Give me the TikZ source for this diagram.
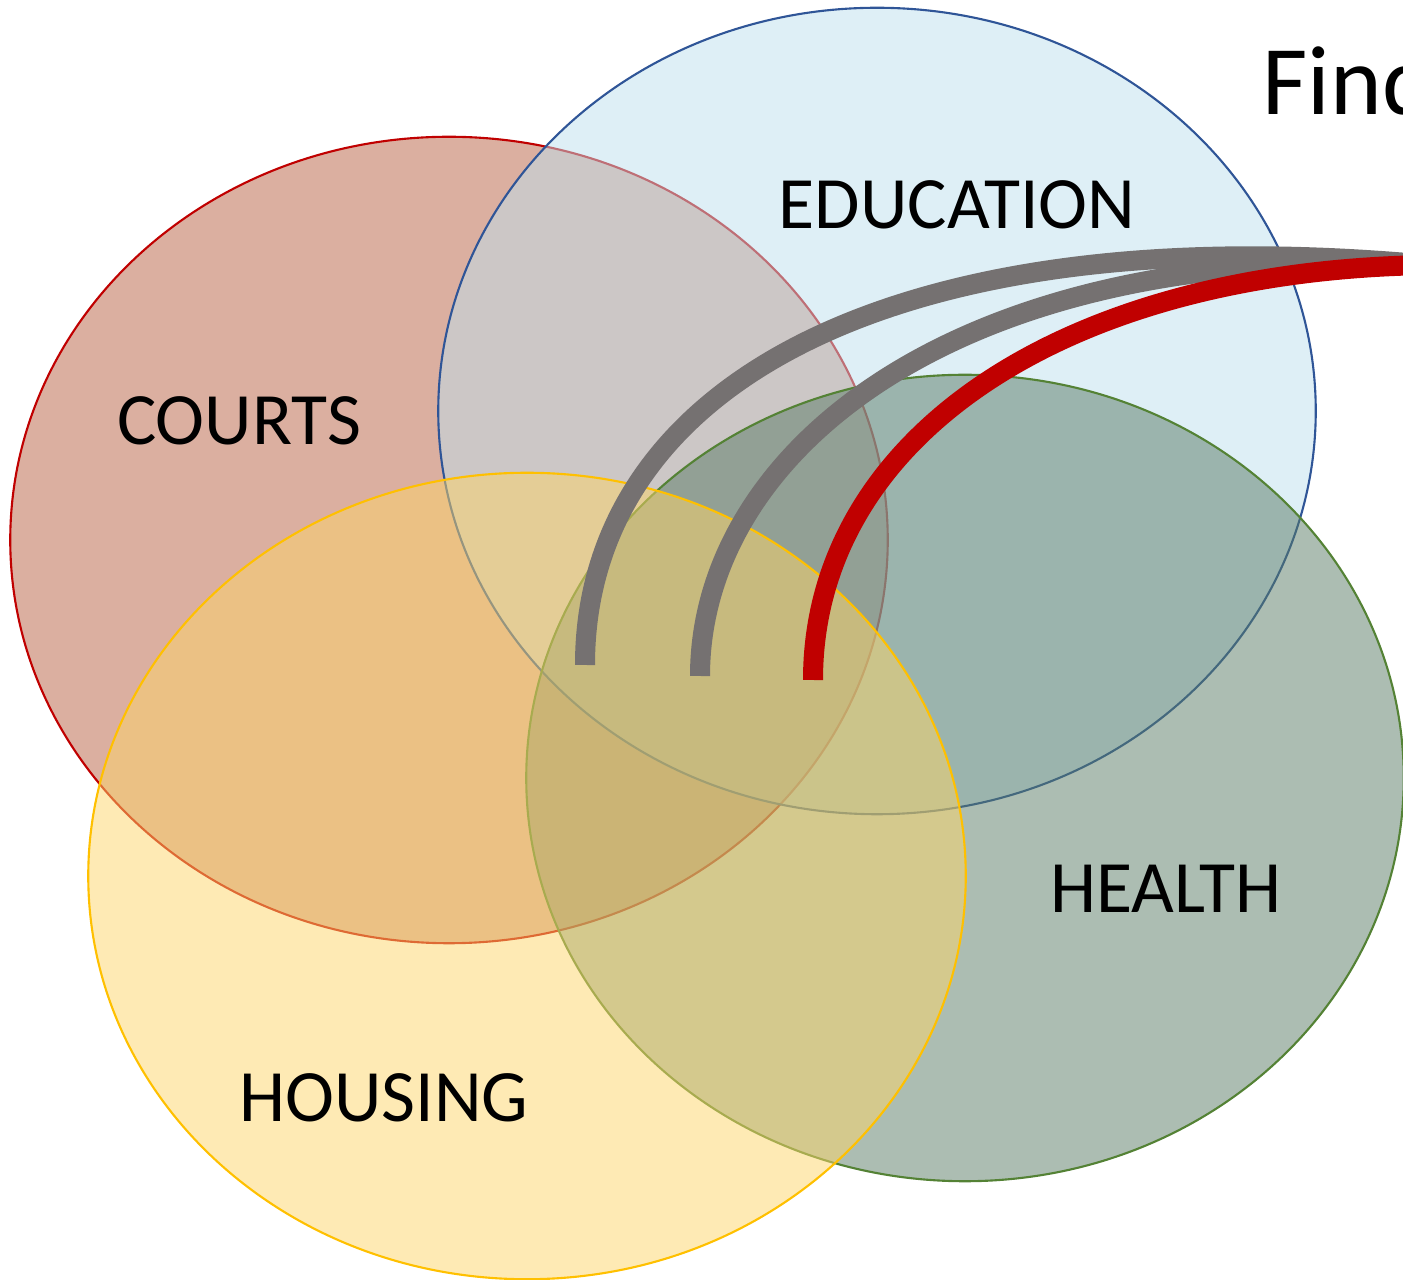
\documentclass[tikz,border=0pt]{standalone}
\usepackage{fontspec}
\setmainfont{Carlito}
\usepackage{tikz}
\usetikzlibrary{shapes.geometric}
\usepackage{xcolor}
\definecolor{courtsline}{RGB}{192,0,0}
\definecolor{courtsfill}{RGB}{183,95,65}
\definecolor{educationline}{RGB}{47,85,151}
\definecolor{educationfill}{RGB}{189,223,237}
\definecolor{healthline}{RGB}{84,130,53}
\definecolor{healthfill}{RGB}{89,123,101}
\definecolor{housingline}{RGB}{255,192,0}
\definecolor{housingfill}{RGB}{253,213,105}
\definecolor{linkgrey}{RGB}{117,113,113}
\tikzset{%
	every set/.style={
		ellipse,
		minimum width=8.77cm,
		minimum height=8.06cm,
		inner sep=0pt,
		line width=0.6pt,
		fill opacity=0.5
	},
	set courts/.style={draw=courtsline, fill=courtsfill},
	set education/.style={draw=educationline, fill=educationfill},
	set health/.style={draw=healthline, fill=healthfill},
	set housing/.style={draw=housingline, fill=housingfill},
	set label/.style={
		inner sep=0pt,
		font=\fontsize{21}{25}\selectfont
	},
	link/.style={
		line width=0.2cm,
		draw=linkgrey
	},
}
\begin{document}
\begin{tikzpicture}[x=0.01cm, y=-0.01cm]
			\useasboundingbox (0,0) rectangle (1403,1280);
			
			\foreach \m/\x/\y in {courts/449/540, education/877/411, health/965/778, housing/527/876}
			\node [every set/.try, set \m/.try] (\m) at (\x,\y) {};
			
			\foreach \m/\l/\x/\y in {courts/COURTS/239/421, education/EDUCATION/957/205, health/HEALTH/1166/889, housing/HOUSING/384/1098}
			\node [set label] (\m-label) at (\x,\y) {\l};
			
			\node [anchor=base west, inner sep=0pt, font=\fontsize{28}{32}\selectfont] (find) at (1262,115) {Find};
			
			\coordinate (hub) at (1430,265);
			\foreach \i/\x/\y in {1/585/665, 2/700/676, 3/813/680}
			\coordinate (leg-\i) at (\x,\y);
			
			\draw [link] (leg-1) .. controls (585,385) and (895,215) .. (hub);
			\draw [link] (leg-2) .. controls (700,450) and (960,240) .. (hub);
			\draw [link, draw=courtsline] (leg-3) .. controls (813,440) and (1060,270) .. (hub);
			
		\end{tikzpicture}
\end{document}
